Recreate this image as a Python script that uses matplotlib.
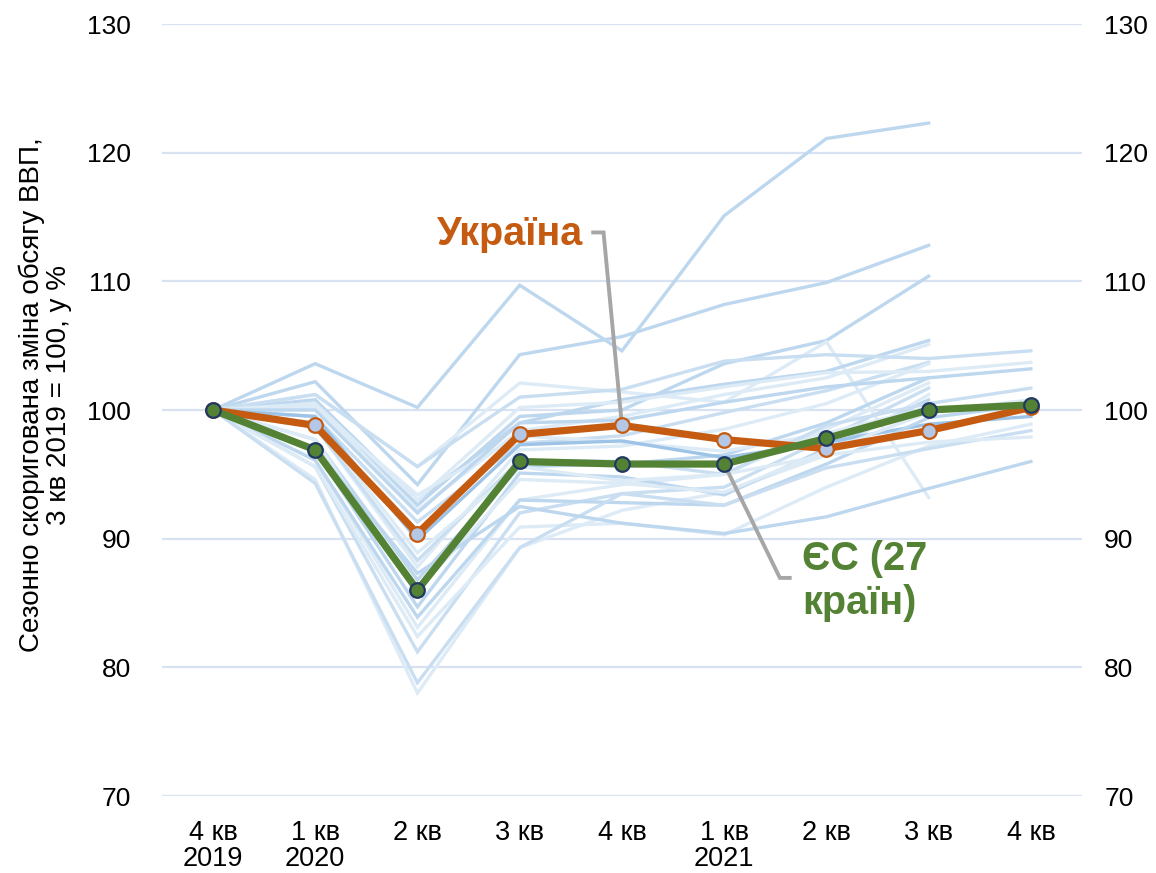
import numpy as np
import matplotlib
matplotlib.use("Agg")
import matplotlib.pyplot as plt

plt.rcParams['font.family'] = ['Liberation Sans', 'DejaVu Sans']

nan = np.nan
quarters = ["4 кв\n2019", "1 кв\n2020", "2 кв", "3 кв", "4 кв", "1 кв\n2021", "2 кв", "3 кв", "4 кв"]

ukraine = [100, 98.8, 90.4, 98.1, 98.8, 97.7, 97.0, 98.4, 100.2]
eu27 = [100, 96.9, 86.0, 96.0, 95.8, 95.8, 97.8, 100.0, 100.4]

# individual EU countries (light background lines)
c01 = [100, 103.6, 100.2, 109.7, 104.6, 115.1, 121.1, 122.3, nan]
c02 = [100, 102.2, 94.2, 104.3, 105.7, 108.2, 109.9, 112.8, nan]
c03 = [100, 100.5, 92.6, 99.5, 100.0, 103.6, 105.4, 110.4, nan]
c04 = [100, 101.2, 95.6, 102.1, 101.4, 100.6, 105.3, 93.2, nan]
c05 = [100, 100.8, 93.0, 99.0, 100.8, 102.0, 103.0, 105.4, nan]
c06 = [100, 100.4, 92.2, 98.4, 99.5, 101.2, 102.5, 105.1, nan]
c07 = [100, 99.5, 91.3, 97.4, 98.0, 99.8, 101.5, 103.7, nan]
c08 = [100, 98.7, 87.8, 96.9, 97.2, 98.5, 100.5, 103.6, nan]
c09 = [100, 97.7, 86.8, 95.6, 95.8, 96.5, 99.0, 102.5, nan]
c10 = [100, 96.1, 83.1, 93.0, 94.2, 95.0, 98.5, 102.1, nan]
c11 = [100, 95.6, 81.2, 92.0, 93.5, 94.0, 97.8, 101.7, nan]
c12 = [100, 94.6, 78.0, 89.3, 92.2, 93.6, 96.5, 101.2, nan]
c13 = [100, 96.9, 84.7, 95.1, 94.8, 93.4, 97.0, 100.8, nan]
c14 = [100, 100.2, 93.4, 98.0, 97.5, 96.8, 98.2, 100.2, nan]
c15 = [100, 101.2, 95.6, 101.0, 101.6, 103.8, 104.3, 104.0, 104.6]
c16 = [100, 100.5, 93.0, 100.2, 100.6, 101.8, 102.9, 103.0, 103.7]
c17 = [100, 100.0, 92.0, 99.0, 99.2, 100.6, 101.8, 102.5, 103.2]
c18 = [100, 99.5, 89.9, 97.3, 97.6, 96.3, 97.5, 98.9, 99.5]
c19 = [100, 98.7, 88.3, 96.1, 96.0, 95.0, 98.8, 100.5, 101.7]
c20 = [100, 97.7, 86.0, 94.6, 94.3, 93.6, 96.8, 99.8, 100.8]
c21 = [100, 96.1, 83.9, 93.0, 92.8, 92.6, 95.8, 99.4, 100.4]
c22 = [100, 95.6, 82.4, 90.9, 91.2, 90.3, 94.0, 97.2, 98.9]
c23 = [100, 94.3, 78.8, 89.3, 93.5, 92.6, 95.5, 97.0, 98.4]
c24 = [100, 99.0, 88.9, 95.6, 94.5, 95.0, 96.5, 97.5, 97.9]
c25 = [100, 97.0, 87.3, 92.5, 91.2, 90.4, 91.7, 93.9, 96.0]
countries = [c01, c02, c03, c04, c05, c06, c07, c08, c09, c10, c11, c12, c13,
             c14, c15, c16, c17, c18, c19, c20, c21, c22, c23, c24, c25]

x = np.arange(len(quarters))

fig = plt.figure(figsize=(11.56, 8.73), dpi=100)
ax = fig.add_axes([0.140, 0.0882, 0.796, 0.8843])

ax.set_ylim(70, 130)
ax.set_xlim(-0.5, len(quarters) - 0.5)
ax.set_yticks(np.arange(70, 131, 10))
for yv in np.arange(70, 131, 10):
    ax.axhline(yv, color='#D9E2F3', lw=1.6, zorder=0)

light_cols = ['#BDD7EE', '#DDEBF7', '#C9DEF1', '#DDEBF7']
for i, c in enumerate(countries):
    col = light_cols[i % len(light_cols)]
    if i in (0, 1, 2):
        col = '#BDD7EE'
    if i == 17:
        col = '#9DC3E6'
    ax.plot(x, c, color=col, lw=2.4, zorder=1, solid_joinstyle='miter')

ax.plot(x, ukraine, color='#C55A11', lw=5.2, zorder=3, marker='o', ms=10.5,
        mfc='#B4C7E7', mec='#C55A11', mew=1.6)
ax.plot(x, eu27, color='#548235', lw=5.2, zorder=4, marker='o', ms=10.5,
        mfc='#548235', mec='#203864', mew=1.6)

# leader lines
ax.plot([3.70, 3.82, 4.0], [113.8, 113.8, ukraine[4]], color='#A6A6A6', lw=2.8,
        zorder=2, solid_joinstyle='miter', solid_capstyle='butt')
ax.plot([5.0, 5.545, 5.66], [eu27[5], 86.95, 86.95], color='#A6A6A6', lw=2.8,
        zorder=2, solid_joinstyle='miter', solid_capstyle='butt')

ax.text(3.62, 112.8, "Україна", color='#C55A11', fontsize=28.5, fontweight='bold',
        ha='right', va='baseline', zorder=5)
ax.text(5.76, 87.57, "ЄС (27", color='#548235', fontsize=28.5, fontweight='bold',
        ha='left', va='baseline', zorder=5)
ax.text(5.76, 84.15, "країн)", color='#548235', fontsize=28.5, fontweight='bold',
        ha='left', va='baseline', zorder=5)

ax.set_xticks(x)
ax.set_xticklabels(quarters, fontsize=19.5, linespacing=1.0)
ax.tick_params(axis='x', length=0, pad=17)
ax.tick_params(axis='y', length=0, pad=22, labelsize=19)
for s in ax.spines.values():
    s.set_visible(False)

ax2 = ax.twinx()
ax2.set_ylim(ax.get_ylim())
ax2.set_yticks(np.arange(70, 131, 10))
ax2.tick_params(axis='y', length=0, pad=16, labelsize=19)
for s in ax2.spines.values():
    s.set_visible(False)

fig.text(45 / 1156, 1 - 395 / 873,
         "Сезонно скоригована зміна обсягу ВВП,\n3 кв 2019 = 100, у %",
         rotation=90, ha='center', va='center', fontsize=20, linespacing=1.05)

fig.savefig("out.png", dpi=100)
